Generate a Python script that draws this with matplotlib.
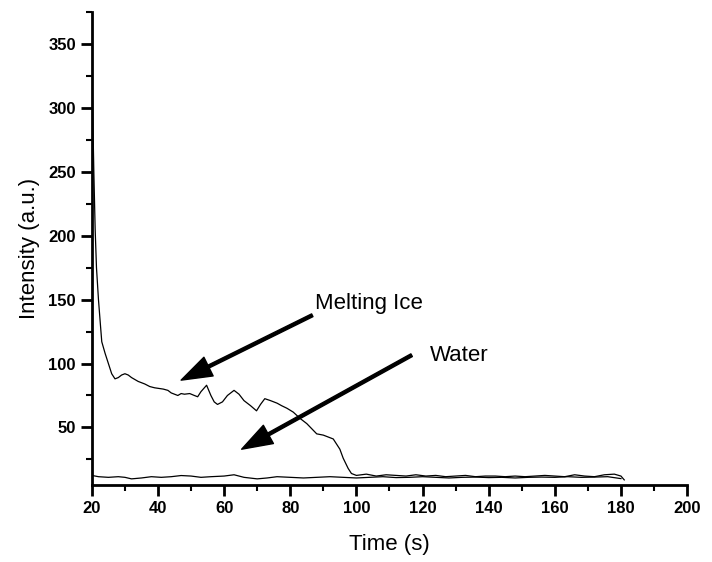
import numpy as np
import matplotlib
matplotlib.use('Agg')
import matplotlib.pyplot as plt
from matplotlib.ticker import MultipleLocator

# data
time_ice = [20.0, 20.3, 20.6, 21.0, 21.4, 22.0, 22.6, 23.0, 24.0, 25.0, 26.0, 27.0,
            28.0, 29.0, 30.0, 31.0, 32.0, 34.0, 36.0, 37.5, 39.0, 41.6, 43.0, 44.0,
            46.0, 47.0, 48.0, 49.6, 51.0, 52.0, 53.0, 54.7, 56.0, 57.0, 58.0, 59.5,
            61.0, 63.0, 64.5, 66.0, 68.0, 69.8, 71.0, 72.3, 74.0, 76.0, 77.4, 79.0,
            80.9, 83.0, 85.0, 86.5, 88.0, 90.0, 93.0, 94.0, 95.0, 96.0, 97.5, 98.5,
            100, 103, 106, 109, 112, 115, 118, 121, 124, 127, 130, 133, 136, 139,
            142, 145, 148, 151, 154, 157, 160, 163, 166, 169, 172, 175, 178, 180, 181]
int_ice = [335, 290, 250, 205, 175, 150, 130, 117, 108, 100, 92, 88,
           89, 91, 92, 91, 89, 86, 84, 82, 81, 80, 79, 77,
           75, 76.5, 76, 76.5, 75, 74, 78, 83, 75, 70, 68, 70,
           75, 79, 76, 71, 67, 63, 68, 72.5, 71, 69, 67, 65,
           62, 57, 53, 49, 45, 44, 41, 37, 33, 26, 18, 14,
           12.5, 13.5, 12, 13, 12.5, 12, 13, 12, 12.5, 11.5, 12, 12.5, 11.5, 12,
           12, 11.5, 12, 11.5, 12, 12.5, 12, 11.5, 13, 12, 11.5, 13, 13.5, 12, 9]

time_water = [20, 22, 25, 28, 30, 32, 35, 38, 41, 44, 47, 50, 53, 56, 60, 63, 66,
              70, 73, 76, 80, 84, 88, 92, 96, 100, 104, 108, 112, 116, 120, 124,
              128, 132, 136, 140, 144, 148, 152, 156, 160, 164, 168, 172, 176, 180]
int_water = [12.5, 11.5, 11, 11.5, 11, 9.8, 10.5, 11.5, 11, 11.5, 12.4, 12, 11, 11.5,
             12, 13, 11, 9.8, 10.5, 11.5, 11, 10.5, 11, 11.5, 11, 10.5, 11, 11.5,
             10.8, 11, 11.5, 11, 10.5, 11, 11.2, 10.8, 11, 10.5, 11, 11.2, 11, 11.5,
             11, 11.2, 11.5, 10]

x_ticks = [20, 40, 60, 80, 100, 120, 140, 160, 180, 200]
y_ticks = [50, 100, 150, 200, 250, 300, 350]

fig = plt.figure(figsize=(7.12, 5.62), dpi=100)
ax = fig.add_axes([0.129, 0.137, 0.836, 0.842])

ax.plot(time_ice, int_ice, color='black', lw=0.9)
ax.plot(time_water, int_water, color='black', lw=0.9)

ax.set_xlim(20, 200)
ax.set_ylim(5, 375)
ax.set_xticks(x_ticks)
ax.set_yticks(y_ticks)
ax.xaxis.set_minor_locator(MultipleLocator(10))
ax.yaxis.set_minor_locator(MultipleLocator(25))

for s in ['top', 'right']:
    ax.spines[s].set_visible(False)
for s in ['left', 'bottom']:
    ax.spines[s].set_linewidth(2)

ax.tick_params(which='major', direction='out', length=8, width=2)
ax.tick_params(which='minor', direction='out', length=4, width=1.5)
for lab in ax.get_xticklabels() + ax.get_yticklabels():
    lab.set_fontfamily('Liberation Sans')
    lab.set_fontweight('bold')
    lab.set_fontsize(12)

ax.set_xlabel('Time (s)', fontsize=16, family='Liberation Sans', labelpad=13)
ax.set_ylabel('Intensity (a.u.)', fontsize=16, family='Liberation Sans', labelpad=6)

arrow = dict(facecolor='black', edgecolor='black', width=2.2, headwidth=15, headlength=22, shrink=0)
ax.annotate('Melting Ice', xy=(47, 87), xytext=(87.5, 147), fontsize=16, family='Liberation Sans',
            va='center', ha='left', arrowprops=arrow)
ax.annotate('', xy=(65.3, 33), xytext=(116.7, 106.5), arrowprops=arrow)
ax.text(122.2, 106.5, 'Water', fontsize=16, family='Liberation Sans', va='center', ha='left')

fig.savefig('out.png', dpi=100)
